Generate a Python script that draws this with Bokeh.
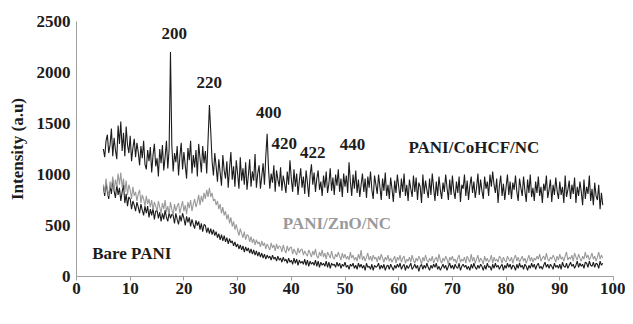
import numpy as np
from bokeh.plotting import figure
from bokeh.models import Range1d, FixedTicker, ColumnDataSource, Label
from bokeh.core.properties import value
from bokeh.embed import file_html
from bokeh.resources import INLINE

# All three patterns sampled at 2theta = 5, 5.25, ..., 98 (degrees)
two_theta_start, two_theta_step = 5.0, 0.25

# PANI/CoHCF/NC intensity (a.u)
cohcf = [
    1250, 1170, 1330, 1390, 1210, 1290, 1450, 1180, 1360, 1240, 1150, 1480,
    1300, 1520, 1230, 1410, 1180, 1470, 1290, 1210, 1380, 1130, 1260, 1350,
    1170, 1310, 1220, 1090, 1280, 1160, 1330, 1100, 1050, 1240, 1130, 1270,
    1020, 1190, 1300, 1080, 1160, 980, 1250, 1110, 1290, 1040, 1170, 1330,
    1060, 1250, 2200, 1290, 1030, 1210, 1120, 1280, 990, 1180, 1310, 1050,
    1220, 1090, 960, 1260, 1140, 1330, 1010, 1190, 1070, 1240, 980, 1300,
    1160, 1020, 1280, 1110, 1230, 1010, 1340, 1680, 1420, 1130, 990, 1210,
    1080, 930, 1150, 1020, 890, 1190, 1040, 960, 1130, 870, 1060, 1220,
    950, 1080, 880, 1140, 1010, 860, 1170, 940, 1060, 900, 1120, 850,
    990, 1150, 880, 1030, 940, 1200, 870, 1010, 1090, 860, 980, 1110,
    900, 1180, 1400, 1060, 860, 1010, 920, 1090, 830, 1040, 950, 880,
    1070, 840, 990, 910, 820, 1030, 900, 1140, 960, 830, 1050, 880,
    1010, 800, 940, 1060, 870, 980, 810, 1040, 920, 780, 990, 1100,
    900, 1020, 830, 960, 1040, 850, 930, 790, 990, 870, 1030, 820,
    910, 1060, 840, 970, 800, 1000, 890, 1050, 830, 960, 780, 1010,
    880, 990, 820, 1120, 930, 790, 1000, 860, 1040, 820, 950, 780,
    900, 1010, 830, 960, 770, 980, 870, 1030, 850, 760, 990, 900,
    810, 1000, 880, 750, 960, 840, 1020, 790, 900, 760, 970, 860,
    730, 940, 820, 1000, 880, 770, 960, 830, 1010, 790, 900, 740,
    950, 860, 780, 990, 830, 970, 750, 920, 880, 720, 1000, 810,
    940, 850, 770, 960, 800, 1010, 870, 740, 930, 790, 980, 850,
    760, 920, 830, 1000, 870, 750, 950, 800, 990, 840, 760, 930,
    820, 980, 730, 900, 860, 1000, 790, 940, 750, 890, 980, 820,
    930, 770, 870, 1010, 800, 950, 840, 760, 980, 860, 930, 790,
    1000, 880, 1030, 900, 820, 960, 720, 890, 990, 790, 910, 750,
    880, 1000, 800, 930, 760, 920, 850, 990, 830, 740, 960, 870,
    790, 980, 840, 730, 950, 820, 1000, 780, 870, 740, 930, 820,
    980, 790, 880, 720, 910, 840, 990, 770, 850, 950, 730, 900,
    800, 970, 840, 760, 930, 800, 880, 720, 990, 780, 850, 940,
    760, 900, 810, 970, 720, 880, 790, 930, 830, 700, 950, 760,
    880, 810, 990, 740, 860, 700, 920, 790, 750, 900, 660, 820,
    700,
]

# PANI/ZnO/NC intensity (a.u)
zno = [
    900, 820, 960, 850, 790, 930, 860, 980, 840, 950, 880, 1010,
    900, 1020, 870, 960, 830, 940, 800, 900, 850, 760, 880, 790,
    830, 740, 810, 850, 720, 800, 760, 690, 790, 710, 760, 680,
    750, 650, 730, 690, 640, 740, 680, 620, 720, 660, 750, 630,
    690, 610, 730, 660, 600, 710, 640, 690, 720, 620, 680, 740,
    640, 700, 610, 730, 670, 750, 640, 710, 760, 680, 730, 800,
    700, 790, 730, 820, 760, 850, 780, 870, 780, 820, 740, 760,
    700, 740, 660, 710, 620, 680, 600, 640, 560, 610, 520, 580,
    490, 540, 460, 510, 450, 400, 470, 420, 380, 440, 360, 410,
    400, 340, 390, 330, 370, 310, 360, 320, 340, 290, 350, 300,
    330, 270, 320, 290, 260, 330, 280, 310, 250, 320, 270, 300,
    290, 240, 310, 260, 230, 300, 250, 280, 290, 220, 270, 240,
    210, 280, 230, 260, 270, 210, 250, 220, 200, 260, 230, 190,
    250, 210, 270, 200, 180, 240, 200, 260, 190, 230, 170, 240,
    210, 180, 250, 190, 170, 220, 190, 240, 200, 160, 230, 180,
    220, 170, 200, 160, 240, 180, 210, 160, 190, 150, 220, 170,
    260, 160, 200, 150, 190, 230, 160, 200, 150, 210, 170, 190,
    140, 200, 160, 220, 180, 140, 190, 160, 210, 150, 180, 140,
    170, 200, 130, 190, 160, 210, 140, 180, 200, 130, 170, 150,
    190, 140, 210, 160, 130, 180, 150, 200, 170, 120, 190, 150,
    210, 160, 140, 180, 150, 200, 130, 170, 190, 140, 220, 160,
    130, 180, 150, 200, 170, 120, 190, 160, 200, 150, 170, 130,
    180, 210, 140, 170, 150, 190, 130, 200, 170, 140, 220, 150,
    190, 130, 170, 210, 140, 180, 160, 120, 200, 150, 180, 140,
    160, 210, 130, 190, 150, 170, 140, 200, 180, 130, 190, 160,
    140, 200, 170, 150, 190, 130, 180, 210, 150, 190, 140, 170,
    200, 150, 180, 130, 170, 210, 150, 190, 140, 180, 160, 200,
    170, 220, 150, 180, 200, 160, 230, 170, 150, 190, 170, 210,
    180, 140, 200, 160, 220, 170, 190, 150, 200, 240, 160, 190,
    170, 210, 150, 230, 190, 160, 220, 180, 150, 200, 170, 240,
    180, 210, 160, 190, 230, 170, 200, 150, 190, 240, 170, 210,
    180,
]

# Bare PANI intensity (a.u)
bare = [
    880, 790, 920, 830, 760, 890, 810, 950, 840, 770, 900, 800,
    870, 740, 830, 900, 720, 810, 690, 780, 760, 660, 740, 700,
    640, 730, 680, 620, 710, 650, 600, 690, 620, 690, 580, 660,
    600, 670, 560, 640, 650, 570, 630, 540, 620, 560, 650, 580,
    540, 630, 570, 610, 600, 520, 620, 560, 510, 600, 540, 620,
    570, 500, 590, 530, 580, 490, 560, 510, 470, 550, 500, 540,
    460, 520, 440, 510, 500, 430, 480, 420, 470, 410, 460, 400,
    440, 380, 420, 360, 410, 350, 400, 340, 380, 320, 370, 330,
    350, 300, 340, 290, 320, 270, 310, 260, 300, 240, 290, 250,
    280, 230, 270, 220, 260, 210, 250, 200, 240, 190, 230, 180,
    220, 170, 210, 180, 200, 160, 210, 170, 190, 150, 200, 160,
    180, 140, 190, 150, 170, 130, 180, 140, 160, 120, 180, 130,
    170, 110, 160, 130, 150, 120, 170, 110, 160, 100, 150, 120,
    140, 110, 160, 100, 150, 90, 140, 110, 130, 100, 150, 90,
    140, 80, 130, 110, 120, 90, 140, 100, 130, 80, 120, 100,
    140, 90, 110, 70, 120, 100, 130, 80, 110, 70, 130, 90,
    120, 80, 110, 60, 130, 90, 100, 70, 120, 60, 110, 90,
    100, 130, 70, 110, 80, 120, 60, 100, 110, 70, 120, 90,
    60, 110, 80, 120, 90, 130, 70, 100, 120, 60, 110, 80,
    100, 130, 70, 90, 120, 80, 110, 50, 100, 120, 70, 110,
    80, 130, 90, 60, 110, 80, 120, 90, 130, 70, 100, 60,
    90, 120, 80, 110, 60, 100, 130, 80, 110, 70, 120, 90,
    80, 130, 60, 100, 120, 90, 110, 70, 100, 60, 120, 80,
    130, 90, 70, 110, 80, 120, 100, 60, 110, 70, 130, 90,
    100, 60, 120, 80, 130, 90, 110, 70, 100, 120, 60, 110,
    80, 130, 90, 120, 70, 110, 100, 60, 120, 80, 130, 90,
    110, 70, 120, 100, 60, 110, 80, 130, 90, 120, 70, 110,
    130, 80, 100, 70, 110, 140, 90, 120, 80, 120, 100, 70,
    130, 90, 110, 80, 120, 70, 140, 100, 90, 130, 80, 110,
    140, 100, 120, 80, 110, 150, 90, 130, 100, 120, 80, 140,
    130, 90, 150, 110, 100, 140, 90, 130, 120, 80, 150, 110,
    130,
]

# Peak / series annotations
ann_text = ["200", "220", "400", "420", "422", "440", "PANI/CoHCF/NC", "Bare PANI"]
ann_x = [18.2, 24.7, 35.8, 38.7, 44.0, 51.4, 74.0, 10.3]
ann_y = [2380, 1900, 1610, 1305, 1215, 1295, 1265, 225]
zno_label = ["PANI/ZnO/NC"]
zno_label_x = [48.5]
zno_label_y = [520]

x_ticks = [0, 10, 20, 30, 40, 50, 60, 70, 80, 90, 100]
y_ticks = [0, 500, 1000, 1500, 2000, 2500]

FONT = "Liberation Serif"
BLACK = "#1c1c1c"
GRAY = "#9a9a9a"
AXIS = "#a0a0a0"

p = figure(width=625, height=316, x_range=Range1d(0, 100), y_range=Range1d(0, 2500),
           output_backend="svg", toolbar_location=None,
           min_border_left=76, min_border_right=12, min_border_top=21, min_border_bottom=40)
p.outline_line_color = None
p.grid.visible = False

def grid(vals):
    return two_theta_start + two_theta_step * np.arange(len(vals))

p.line(grid(cohcf), cohcf, line_color=BLACK, line_width=1.1)
p.line(grid(bare), bare, line_color=BLACK, line_width=1.1)
p.line(grid(zno), zno, line_color=GRAY, line_width=1.1)

src = ColumnDataSource(dict(x=ann_x, y=ann_y, t=ann_text))
p.text(x="x", y="y", text="t", source=src, text_font=value(FONT), text_font_style="bold",
       text_font_size="17px", text_color=BLACK, text_align="center", text_baseline="middle")
src2 = ColumnDataSource(dict(x=zno_label_x, y=zno_label_y, t=zno_label))
p.text(x="x", y="y", text="t", source=src2, text_font=value(FONT), text_font_style="bold",
       text_font_size="17px", text_color=GRAY, text_align="center", text_baseline="middle")

p.xaxis.ticker = FixedTicker(ticks=x_ticks)
p.yaxis.ticker = FixedTicker(ticks=y_ticks)
for ax in (p.xaxis[0], p.yaxis[0]):
    ax.axis_line_color = AXIS
    ax.axis_line_width = 1
    ax.minor_tick_line_color = None
    ax.major_label_text_font = FONT
    ax.major_label_text_font_style = "bold"
    ax.major_label_text_font_size = "17px"
    ax.major_label_text_color = BLACK
    ax.axis_label_text_font = FONT
    ax.axis_label_text_font_style = "bold"
    ax.axis_label_text_font_size = "17px"
    ax.axis_label_text_color = BLACK

p.xaxis.major_tick_line_color = AXIS
p.xaxis.major_tick_out = 4
p.xaxis.major_tick_in = 0
p.xaxis.major_label_standoff = 2

p.yaxis.major_tick_line_color = None
p.yaxis.major_tick_out = 0
p.yaxis.major_tick_in = 0
p.yaxis.major_label_standoff = 6
p.yaxis.axis_label = "Intensity (a.u)"
p.yaxis.axis_label_standoff = 7

xtitle = Label(x=50, y=-268, x_units="data", y_units="data", text="2Θ(degree)",
               text_font=FONT, text_font_style="bold", text_font_size="17px",
               text_color=BLACK, text_align="center", text_baseline="middle")
p.add_layout(xtitle)

open("out.html", "w").write(file_html(p, INLINE))
